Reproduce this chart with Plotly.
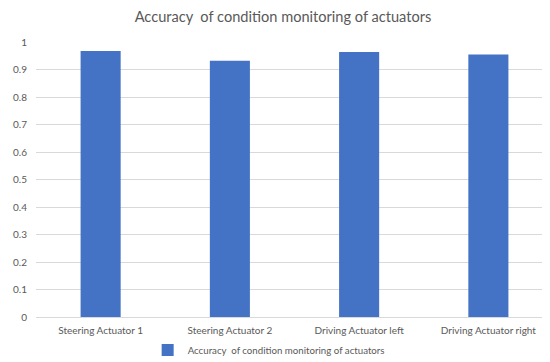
import plotly.graph_objects as go

categories = ["Steering Actuator 1", "Steering Actuator 2", "Driving Actuator left", "Driving Actuator right"]
accuracy = [0.967, 0.932, 0.964, 0.955]
series_name = "Accuracy  of condition monitoring of actuators"
title_text = "Accuracy  of condition monitoring of actuators"
y_ticks = [0, 0.1, 0.2, 0.3, 0.4, 0.5, 0.6, 0.7, 0.8, 0.9, 1]
y_ticktext = ["0", "0.1", "0.2", "0.3", "0.4", "0.5", "0.6", "0.7", "0.8", "0.9", "1"]

font_family = "Lato, 'Open Sans', sans-serif"
grey = "#595959"

fig = go.Figure()
fig.add_trace(go.Bar(
    x=categories, y=accuracy, name=series_name,
    marker=dict(color="#4472C4", line=dict(width=0)),
    showlegend=True,
))

fig.update_layout(
    width=550, height=362,
    margin=dict(l=28, r=5, t=34, b=45),
    paper_bgcolor="white", plot_bgcolor="white",
    title=dict(text=title_text, x=0.5, xref="container", xanchor="center",
               y=0.975, yanchor="middle",
               font=dict(family=font_family, size=14.6, color=grey)),
    bargap=0.69,
    showlegend=True,
    legend=dict(orientation="h", x=0.45, xanchor="center", y=-0.12, yanchor="middle",
                font=dict(family=font_family, size=9.7, color=grey),
                itemwidth=30, traceorder="normal"),
    font=dict(family=font_family, size=10, color=grey),
)
fig.update_xaxes(showgrid=False, showline=True, linecolor="#d9d9d9", linewidth=1,
                 ticks="", ticklabelstandoff=4,
                 tickfont=dict(family=font_family, size=10, color=grey))
fig.update_yaxes(range=[0, 1], tickvals=y_ticks, ticktext=y_ticktext,
                 showgrid=True, gridcolor="#d9d9d9", gridwidth=1,
                 zeroline=False, showline=False, ticks="", ticklabelstandoff=8,
                 tickfont=dict(family=font_family, size=10, color=grey))

fig.write_html("out.html")
